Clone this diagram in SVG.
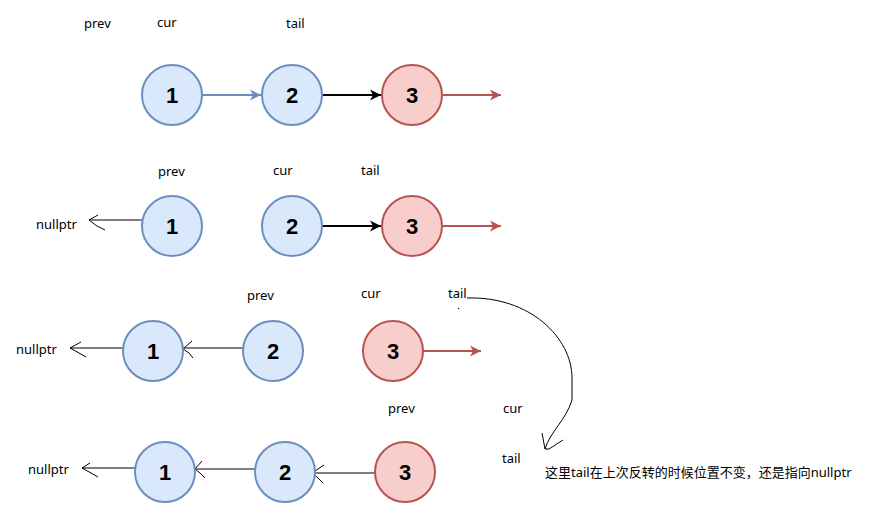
<svg xmlns="http://www.w3.org/2000/svg" width="873" height="519" viewBox="0 0 873 519">
<style>
.bg{fill:#ffffff}
.nb circle{fill:#dae8fc;stroke:#6c8ebf;stroke-width:2}
.nr circle{fill:#f8cecc;stroke:#b85450;stroke-width:2}
.num{font-family:"Liberation Sans",Arial,sans-serif;font-weight:bold;font-size:22px;fill:#000;text-anchor:middle}
.lbl{font-family:"Noto Sans","Noto Sans CJK SC",sans-serif;font-size:13px;fill:#000}
.eb{stroke:#6c8ebf;stroke-width:2;fill:none}
.ek{stroke:#000;stroke-width:2;fill:none}
.er{stroke:#b85450;stroke-width:2;fill:none}
.hand{stroke:#000;stroke-width:1;fill:none}
</style>
<defs>
<marker id="ab" viewBox="-12 -6 13 12" refX="0" refY="0" markerWidth="13" markerHeight="12" markerUnits="userSpaceOnUse" orient="auto"><path d="M0,0 L-11,-5.5 L-8,0 L-11,5.5 Z" fill="#6c8ebf"/></marker>
<marker id="ak" viewBox="-12 -6 13 12" refX="0" refY="0" markerWidth="13" markerHeight="12" markerUnits="userSpaceOnUse" orient="auto"><path d="M0,0 L-11,-5.5 L-8,0 L-11,5.5 Z" fill="#000"/></marker>
<marker id="ar" viewBox="-12 -6 13 12" refX="0" refY="0" markerWidth="13" markerHeight="12" markerUnits="userSpaceOnUse" orient="auto"><path d="M0,0 L-11,-5.5 L-8,0 L-11,5.5 Z" fill="#b85450"/></marker>
</defs>
<rect class="bg" x="0" y="0" width="873" height="519"/>

<g id="connectors">
<!-- row 1 -->
<line class="eb" x1="203" y1="95" x2="261" y2="95" marker-end="url(#ab)"/>
<line class="ek" x1="323" y1="95" x2="381" y2="95" marker-end="url(#ak)"/>
<line class="er" x1="443" y1="95" x2="501" y2="95" marker-end="url(#ar)"/>
<!-- row 2 -->
<polyline class="hand" points="143,220 89,220"/>
<path class="hand" d="M98,215 L89,220 L97,226 L105,230"/>
<line class="ek" x1="322" y1="226" x2="381" y2="226" marker-end="url(#ak)"/>
<line class="er" x1="442" y1="226" x2="501" y2="226" marker-end="url(#ar)"/>
<!-- row 3 -->
<polyline class="hand" points="123,348 70,348"/>
<path class="hand" d="M81,342 L70,348 L79,353 L86,357"/>
<polyline class="hand" points="243,348 183,348"/>
<path class="hand" d="M192,341 L183,349 L189,353 L193,358"/>
<line class="er" x1="423" y1="351" x2="481" y2="351" marker-end="url(#ar)"/>
<rect x="302" y="350" width="2" height="1.5" fill="#000"/>
<rect x="362" y="350" width="2" height="1.5" fill="#000"/>
<rect x="458" y="308" width="1.2" height="1.2" fill="#000"/>
<!-- row 4 -->
<polyline class="hand" points="135,468 82,468"/>
<path class="hand" d="M90,463 L82,468 L91,473 L98,477"/>
<polyline class="hand" points="255,469 195,469"/>
<path class="hand" d="M202,461 L195,469 L200,473 L205,478"/>
<polyline class="hand" points="375,473 312,473"/>
<path class="hand" d="M324,465 L312,473 L318,478 L323,483"/>
<!-- curved annotation arrow -->
<path class="hand" d="M467,298 C530,296 572,338 572,378 L572,400 C566,420 550,432 545,449"/>
<path class="hand" d="M542,433 L545,449 L549,449 L563,440"/>
</g>

<g id="node-r1-1" class="nb"><circle cx="172" cy="95" r="30"/><text class="num" x="172" y="103">1</text></g>
<g id="node-r1-2" class="nb"><circle cx="292" cy="95" r="30"/><text class="num" x="292" y="103">2</text></g>
<g id="node-r1-3" class="nr"><circle cx="412" cy="95" r="30"/><text class="num" x="412" y="103">3</text></g>

<g id="node-r2-1" class="nb"><circle cx="172" cy="226" r="30"/><text class="num" x="172" y="234">1</text></g>
<g id="node-r2-2" class="nb"><circle cx="292" cy="226" r="30"/><text class="num" x="292" y="234">2</text></g>
<g id="node-r2-3" class="nr"><circle cx="412" cy="226" r="30"/><text class="num" x="412" y="234">3</text></g>

<g id="node-r3-1" class="nb"><circle cx="153" cy="351" r="30"/><text class="num" x="153" y="359">1</text></g>
<g id="node-r3-2" class="nb"><circle cx="273" cy="351" r="30"/><text class="num" x="273" y="359">2</text></g>
<g id="node-r3-3" class="nr"><circle cx="393" cy="351" r="30"/><text class="num" x="393" y="359">3</text></g>

<g id="node-r4-1" class="nb"><circle cx="165" cy="472" r="30"/><text class="num" x="165" y="480">1</text></g>
<g id="node-r4-2" class="nb"><circle cx="285" cy="472" r="30"/><text class="num" x="285" y="480">2</text></g>
<g id="node-r4-3" class="nr"><circle cx="405" cy="472" r="30"/><text class="num" x="405" y="480">3</text></g>

<g id="labels" class="lbl">
<text class="lbl" x="84" y="28">prev</text>
<text class="lbl" x="157" y="26.5">cur</text>
<text class="lbl" x="286" y="27.5">tail</text>
<text class="lbl" x="158" y="176">prev</text>
<text class="lbl" x="273" y="175">cur</text>
<text class="lbl" x="361" y="175">tail</text>
<text class="lbl" x="36" y="228.5">nullptr</text>
<text class="lbl" x="247" y="300">prev</text>
<text class="lbl" x="361" y="298">cur</text>
<text class="lbl" x="448" y="298">tail</text>
<text class="lbl" x="16" y="354">nullptr</text>
<text class="lbl" x="388" y="413">prev</text>
<text class="lbl" x="503" y="413">cur</text>
<text class="lbl" x="502" y="463">tail</text>
<text class="lbl" x="28" y="474">nullptr</text>
<text class="lbl" x="545" y="477">这里tail在上次反转的时候位置不变，还是指向nullptr</text>
</g>
</svg>
